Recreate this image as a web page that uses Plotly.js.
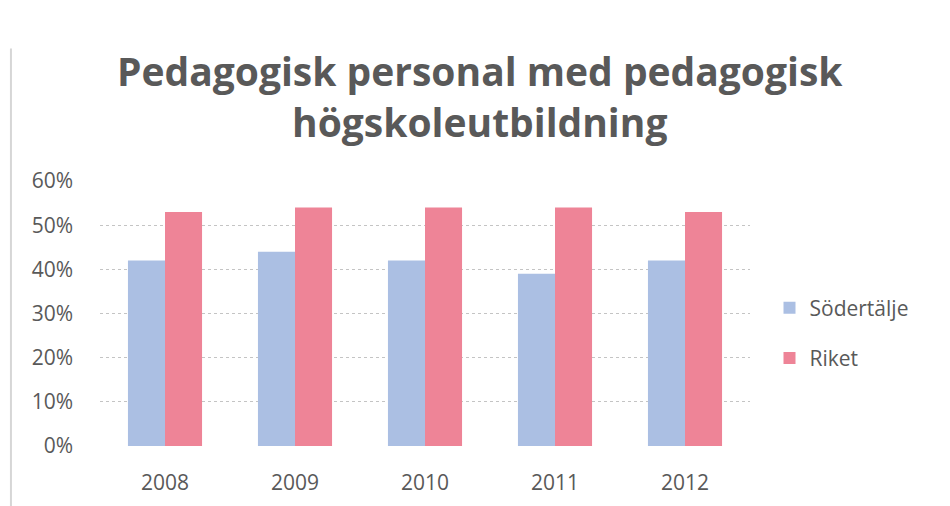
<!DOCTYPE html>
<html>
<head>
<meta charset="utf-8">
<script src="https://cdn.plot.ly/plotly-3.0.1.min.js"></script>
<style>html,body{margin:0;padding:0;background:#fff;}#chart{width:950px;height:506px;}</style>
</head>
<body>
<div id="chart"></div>
<script>
const years = ["2008", "2009", "2010", "2011", "2012"];
const sodertalje = [0.42, 0.44, 0.42, 0.39, 0.42];
const riket = [0.53, 0.54, 0.54, 0.54, 0.53];
const seriesNames = ["Södertälje", "Riket"];
const titleText = "Pedagogisk personal med pedagogisk<br>högskoleutbildning";

const textColor = "#595959";
const traces = [
  {type: "bar", x: years, y: sodertalje, name: seriesNames[0], legendgroup: "a",
   marker: {color: "#abbfe3"}, hoverinfo: "x+y"},
  {type: "bar", x: years, y: riket, name: seriesNames[1], legendgroup: "b",
   marker: {color: "#ee8497"}, hoverinfo: "x+y"}
];
const layout = {
  width: 950, height: 506,
  paper_bgcolor: "#ffffff", plot_bgcolor: "#ffffff",
  margin: {l: 100, r: 200, t: 181, b: 60},
  font: {family: "Open Sans, Noto Sans, sans-serif", color: textColor, size: 21},
  title: {text: titleText, x: 0.505, xanchor: "center", xref: "container",
          y: 0.83, yanchor: "middle", yref: "container",
          font: {family: "Open Sans, sans-serif", size: 39, color: textColor, weight: "bold"}},
  barmode: "group", bargap: 0.43, bargroupgap: 0,
  xaxis: {type: "category", showgrid: false, zeroline: false, showline: false,
          ticks: "", ticklabelstandoff: 22, tickfont: {size: 21, color: textColor}},
  yaxis: {range: [0, 0.6], dtick: 0.1, tickformat: ".0%", showgrid: true,
          gridcolor: "#c4c4c4", griddash: "dot", gridwidth: 1, zeroline: false, showline: false,
          ticks: "", ticklabelstandoff: 26, tickfont: {size: 21, color: textColor}},
  legend: {x: 1.03, xanchor: "left", y: 0.426, yanchor: "middle", xref: "paper",
           font: {size: 21, color: textColor}, traceorder: "grouped", tracegroupgap: 20,
           bgcolor: "rgba(0,0,0,0)", itemwidth: 30},
  shapes: [
    {type: "line", xref: "paper", yref: "paper", x0: -0.137, x1: -0.137, y0: -0.24, y1: 1.5,
     line: {color: "#d6d6d6", width: 2}}
  ],
  showlegend: true
};
Plotly.newPlot("chart", traces, layout, {displayModeBar: false, staticPlot: true});
</script>
</body>
</html>
